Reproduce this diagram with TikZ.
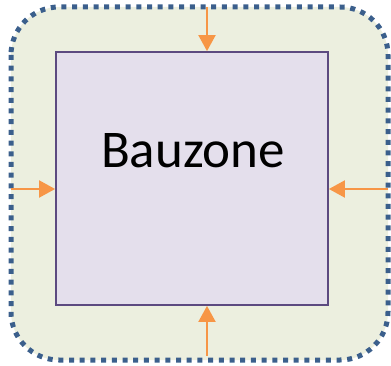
\documentclass[tikz,border=0pt]{standalone}
\usepackage{fontspec}
\setmainfont{Carlito}
\usetikzlibrary{arrows.meta}
\definecolor{zonefill}{HTML}{ECEFDF}
\definecolor{zoneedge}{HTML}{3B5F8C}
\definecolor{sitefill}{HTML}{E4DFEC}
\definecolor{siteedge}{HTML}{5C4A80}
\definecolor{inflow}{HTML}{F79646}
\tikzset{
  zone/.style={draw=zoneedge, fill=zonefill, line width=5pt,
    dash pattern=on 5pt off 5.7pt, rounded corners=48pt},
  site/.style={draw=siteedge, fill=sitefill, line width=1.8pt,
    minimum width=272pt, minimum height=253pt, inner sep=0pt},
  feed/.style={draw=inflow, line width=2pt,
    -{Triangle[length=16pt,width=17pt]}, shorten >=0pt},
}
\begin{document}
\begin{tikzpicture}[x=1pt,y=-1pt]
  \useasboundingbox (0,0) rectangle (391,366);
  % outer boundary of the construction area
  \draw[zone] (11,7) rectangle (388,360);
  % construction zone itself
  \node[site] (site) at (192,178.5) {};
  \node[font=\fontsize{53}{58}\selectfont, anchor=center] (label) at (193,151) {Bauzone};
  % incoming access points on the boundary
  \coordinate (n) at (207,7);
  \coordinate (s) at (207,356);
  \coordinate (w) at (11,189);
  \coordinate (e) at (388,189);
  \draw[feed] (n) -- (n |- site.north);
  \draw[feed] (s) -- (s |- site.south);
  \draw[feed] (w) -- (w -| site.west);
  \draw[feed] (e) -- (e -| site.east);
\end{tikzpicture}
\end{document}
